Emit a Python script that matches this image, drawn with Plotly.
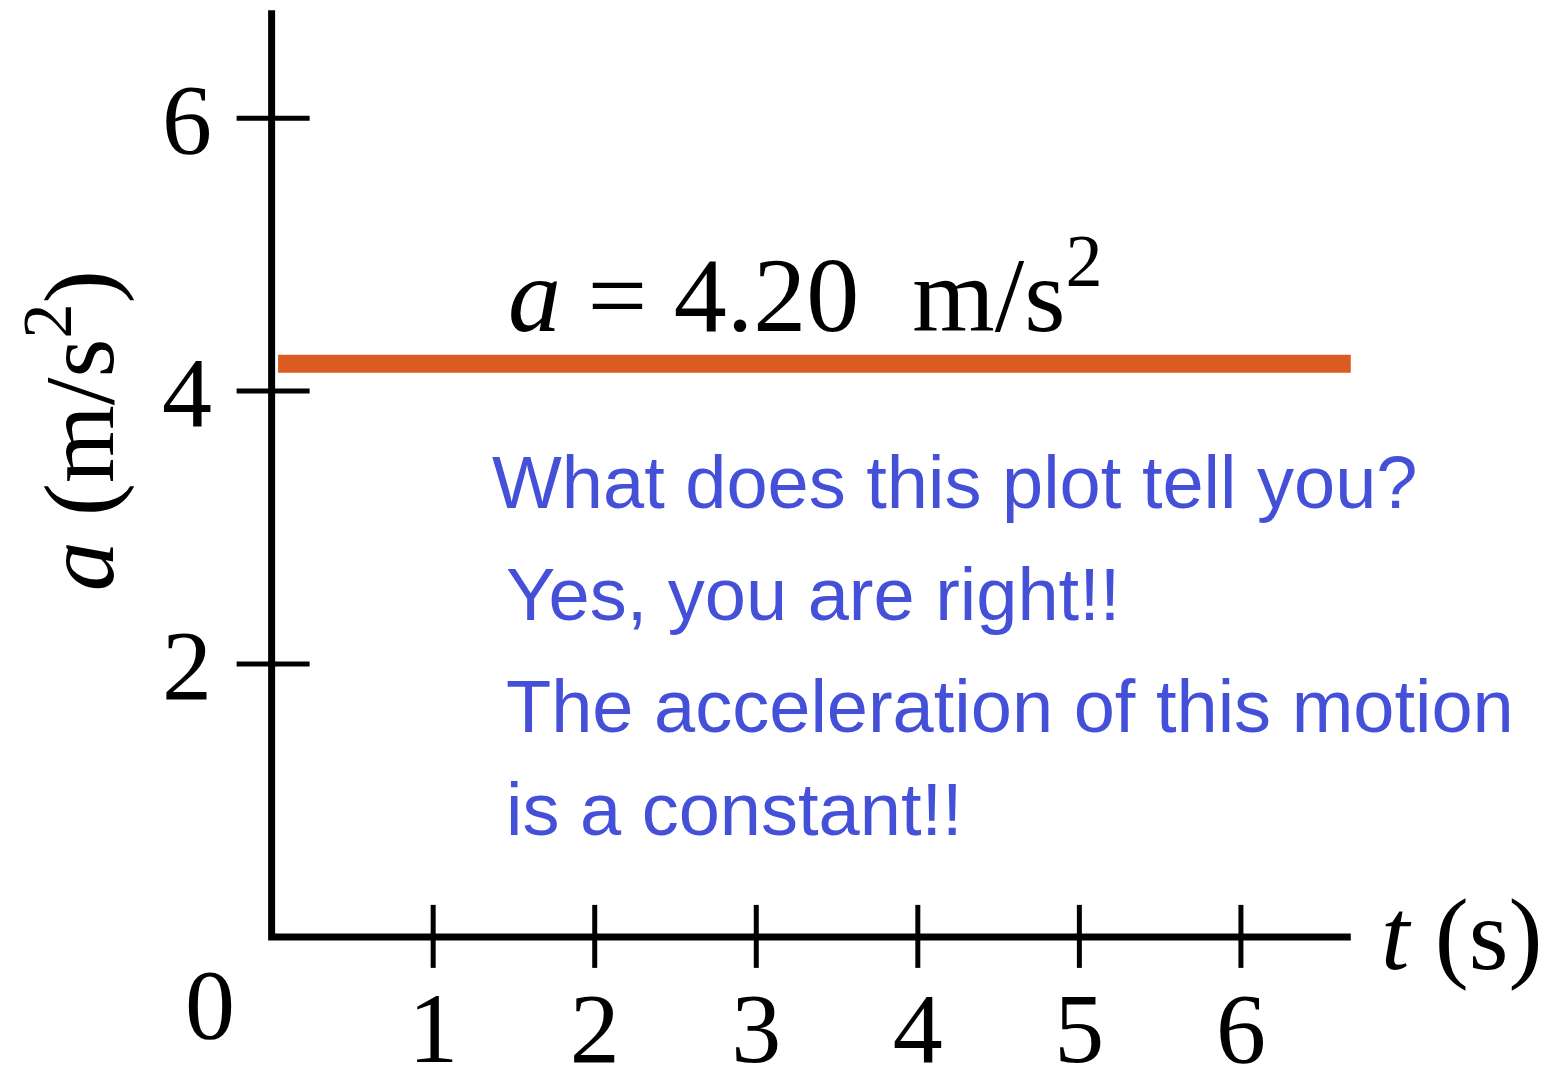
import plotly.graph_objects as go

# constant acceleration line
t_values = [0.04, 6.68]
a_values = [4.2, 4.2]

x_ticks = [1, 2, 3, 4, 5, 6]
y_ticks = [2, 4, 6]

note_lines = [
    "What does this plot tell you?",
    "Yes, you are right!!",
    "The acceleration of this motion",
    "is a constant!!",
]

serif = "Liberation Serif, Times New Roman, serif"
sans = "Liberation Sans Narrow, Arial Narrow, Liberation Sans, Arial, sans-serif"
blue = "#4550D9"
orange = "#DA5C22"
nb = "\u00a0"

fig = go.Figure()
fig.add_trace(go.Scatter(
    x=t_values, y=a_values, mode="lines",
    line=dict(color=orange, width=18),
    hoverinfo="skip", showlegend=False
))

# axes drawn as one path so the corner is closed
shapes = [dict(
    type="path", xref="x", yref="y", path="M 0,6.79 L 0,0 L 6.68,0",
    line=dict(color="black", width=7)
)]
# tick marks cross the axes, so draw them as shapes
for v in y_ticks:
    shapes.append(dict(
        type="line", xref="x", yref="y", xsizemode="pixel", xanchor=0,
        x0=-35, x1=38, y0=v, y1=v, line=dict(color="black", width=5)
    ))
for v in x_ticks:
    shapes.append(dict(
        type="line", xref="x", yref="y", ysizemode="pixel", yanchor=0,
        y0=-31, y1=32, x0=v, x1=v, line=dict(color="black", width=5)
    ))

annotations = [
    dict(x=0, y=0, text="0", showarrow=False, xshift=-62, yshift=-68,
         font=dict(family=serif, size=100, color="black")),
    dict(x=6.68, y=0, text="<i>t</i> (s)", showarrow=False, xanchor="left",
         xshift=28, yshift=2, font=dict(family=serif, size=102, color="black")),
    dict(x=0, y=3.71, text="<i>a</i> (m/s<sup>2</sup>)", showarrow=False,
         textangle=-90, xshift=-200, font=dict(family=serif, size=100, color="black")),
    dict(x=1.45, y=4.76,
         text=f"<i>a</i>{nb}={nb}4.20{nb}{nb}m/s<sup>2</sup>", showarrow=False,
         xanchor="left", font=dict(family=serif, size=106, color="black")),
]

note_pos = [(1.35, 3.33), (1.44, 2.51), (1.44, 1.685), (1.44, 0.93)]
for line, (x, y) in zip(note_lines, note_pos):
    annotations.append(dict(
        x=x, y=y, text=line, showarrow=False, xanchor="left",
        font=dict(family=sans, size=74, color=blue)
    ))

fig.update_layout(
    width=1562, height=1071,
    margin=dict(l=199, r=216, t=1, b=108),
    plot_bgcolor="white", paper_bgcolor="white",
    shapes=shapes, annotations=annotations,
    xaxis=dict(
        range=[-0.4, 6.7], showgrid=False, showline=False, zeroline=False,
        automargin=False, tickvals=x_ticks, ticks="", ticklabelstandoff=-10,
        tickfont=dict(family=serif, size=100, color="black"),
    ),
    yaxis=dict(
        range=[-0.25, 6.8], showgrid=False, showline=False, zeroline=False,
        automargin=False, tickvals=y_ticks, ticks="", ticklabelstandoff=-6,
        tickfont=dict(family=serif, size=100, color="black"),
    ),
)

fig.write_html("out.html")
